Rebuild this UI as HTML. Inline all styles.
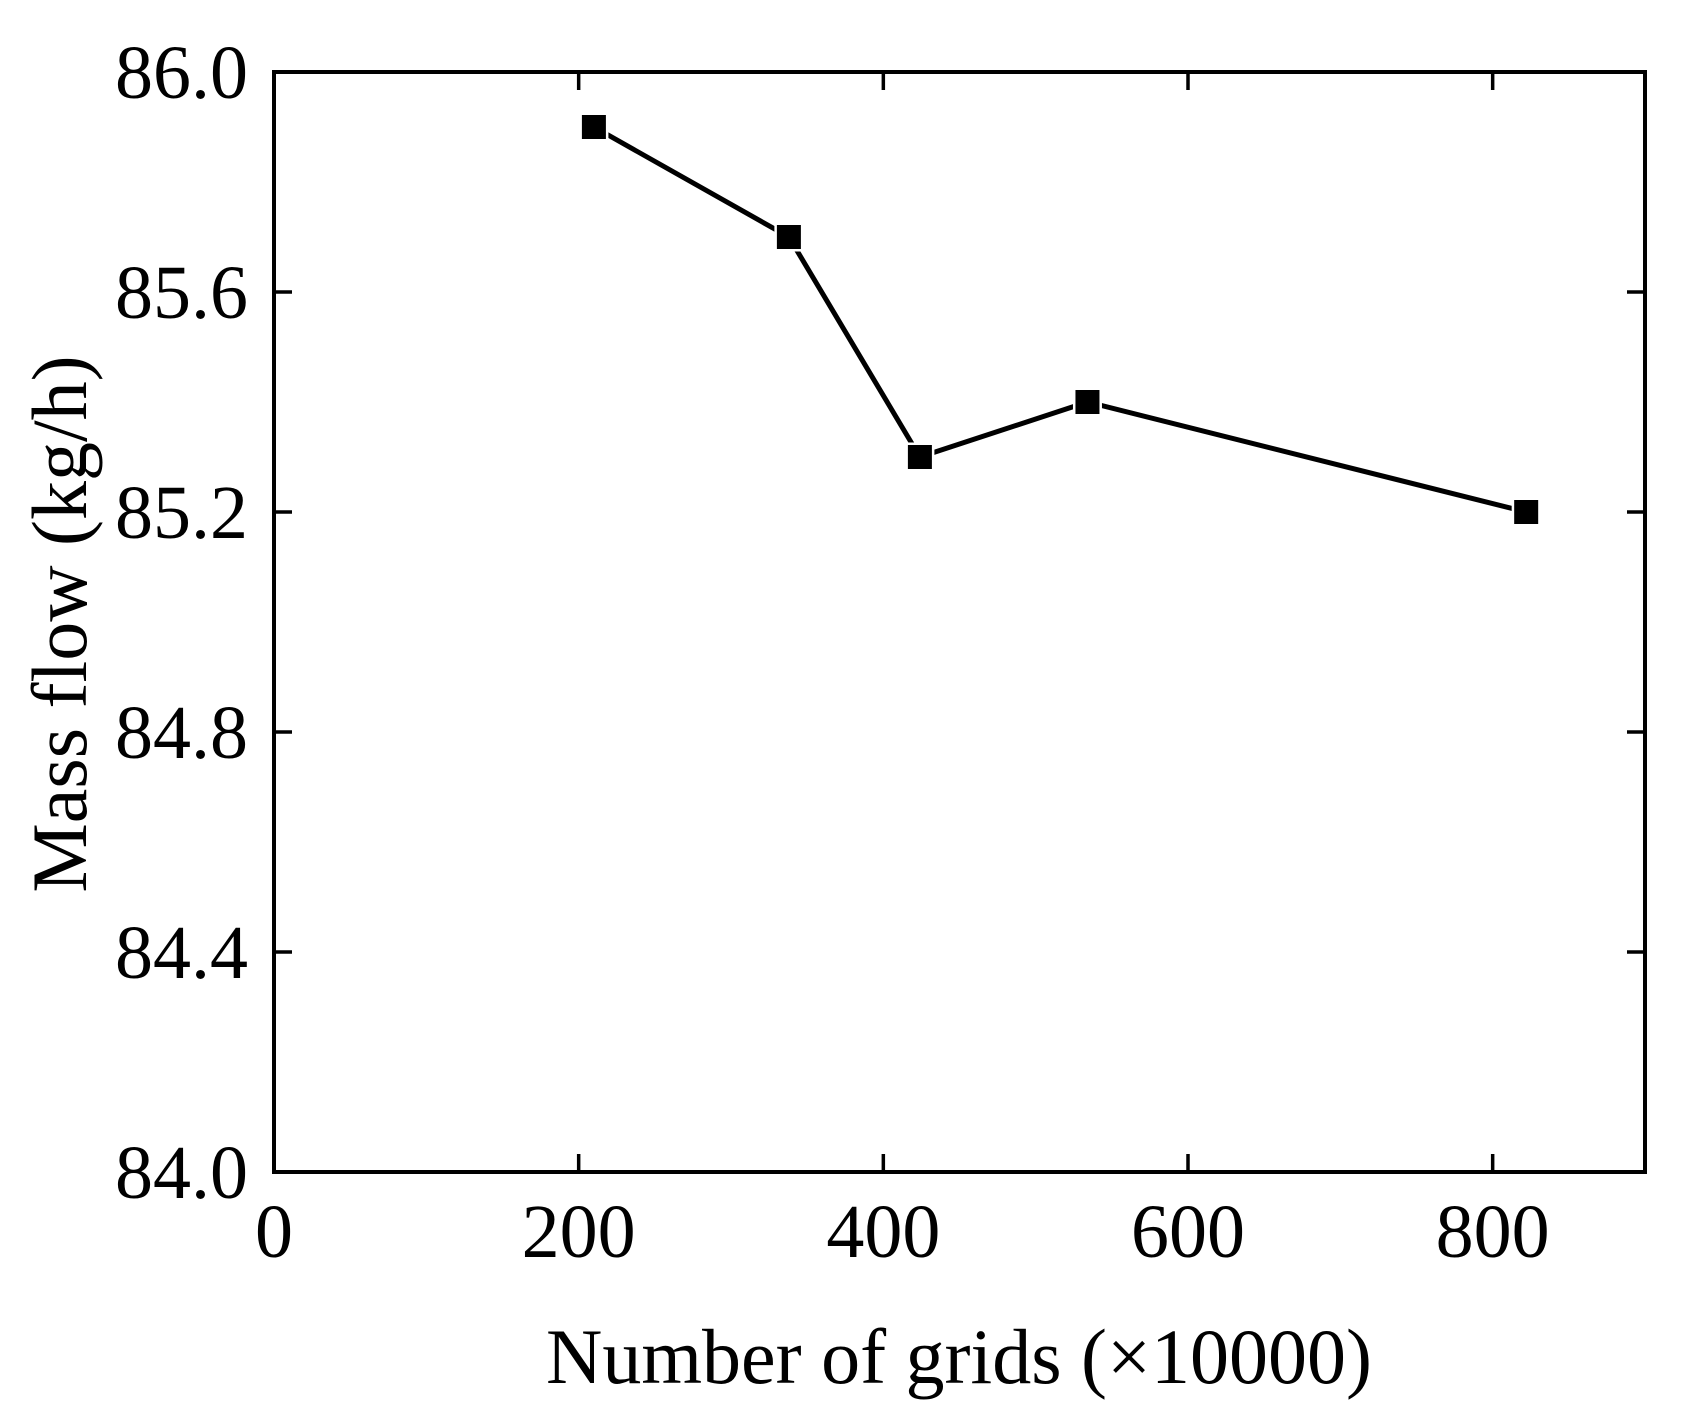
<!DOCTYPE html>
<html><head><meta charset="utf-8"><style>
html,body{margin:0;padding:0;background:#fff;}
svg{display:block;font-family:"Liberation Serif",serif;}
</style></head><body>
<svg id="chart" width="1694" height="1427" viewBox="0 0 1694 1427">
<rect x="274" y="72" width="1371" height="1100" fill="none" stroke="#000" stroke-width="4"/>
<g id="ticks"></g>
<g id="series"></g>
<text x="959" y="1383" font-size="78" text-anchor="middle">Number of grids (×10000)</text>
<text transform="translate(86,624) rotate(-90)" font-size="78" text-anchor="middle">Mass flow (kg/h)</text>
</svg>
<script>
const xCategories = [210, 338, 424, 534, 822];
const massFlow = [85.90, 85.70, 85.30, 85.40, 85.20];
const xTicks = [0, 200, 400, 600, 800];
const yTicks = [84.0, 84.4, 84.8, 85.2, 85.6, 86.0];
const yTickLabels = ["84.0", "84.4", "84.8", "85.2", "85.6", "86.0"];

const L=274,R=1645,T=72,B=1172;
const xMin=0,xMax=900,yMin=84,yMax=86;
const sx=v=>L+(v-xMin)/(xMax-xMin)*(R-L);
const sy=v=>B-(v-yMin)/(yMax-yMin)*(B-T);
const NS="http://www.w3.org/2000/svg";
const tg=document.getElementById('ticks');
const sg=document.getElementById('series');
function mk(tag,attrs,parent){const e=document.createElementNS(NS,tag);for(const k in attrs)e.setAttribute(k,attrs[k]);parent.appendChild(e);return e;}
const TL=18;
xTicks.forEach(v=>{
  const x=sx(v);
  if(v>xMin){
    const t1=mk('line',{x1:x,y1:B,x2:x,y2:B-TL,stroke:'#000','stroke-width':3.5},tg);
    
    
    const t2=mk('line',{x1:x,y1:T,x2:x,y2:T+TL,stroke:'#000','stroke-width':3.5},tg);
    
    
  }
  const lb=mk('text',{x:x,y:1257,'font-size':76,'text-anchor':'middle'},tg);
  lb.textContent=String(v);
  
  
});
yTicks.forEach((v,i)=>{
  const y=sy(v);
  if(v>yMin&&v<yMax){
    const t1=mk('line',{x1:L,y1:y,x2:L+TL,y2:y,stroke:'#000','stroke-width':3.5},tg);
    
    
    const t2=mk('line',{x1:R,y1:y,x2:R-TL,y2:y,stroke:'#000','stroke-width':3.5},tg);
    
    
  }
  const lb=mk('text',{x:248,y:y+26,'font-size':76,'text-anchor':'end'},tg);
  lb.textContent=yTickLabels[i];
  
  
});
const pts=xCategories.map((c,i)=>sx(c)+','+sy(massFlow[i])).join(' ');
const line=mk('polyline',{points:pts,fill:'none',stroke:'#000','stroke-width':5},sg);


xCategories.forEach((c,i)=>{
  const m=mk('rect',{x:sx(c)-12,y:sy(massFlow[i])-12,width:24,height:24,fill:'#000',stroke:'#fff','stroke-width':5,'paint-order':'stroke'},sg);
  
  
});
</script>
</body></html>
